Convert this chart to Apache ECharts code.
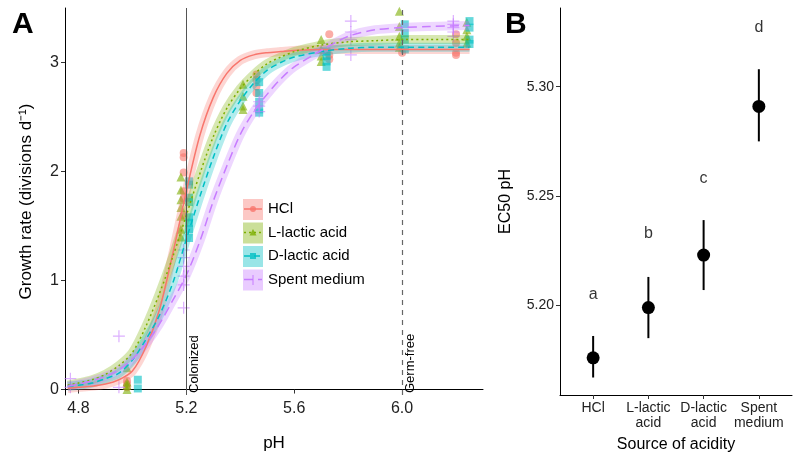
<!DOCTYPE html>
<html>
<head>
<meta charset="utf-8">
<script src="https://cdn.jsdelivr.net/npm/echarts@6/dist/echarts.min.js"></script>
<style>
  html, body { margin: 0; padding: 0; background: #fff; }
  #chart { width: 800px; height: 465px; }
</style>
</head>
<body>
<div id="chart"></div>
<script>
// 数据
const groups = ['HCl', 'L-lactic acid', 'D-lactic acid', 'Spent medium'];
const colors = ['#F8766D', '#7CAE00', '#00BFC4', '#C77CFF'];

// 拟合曲线：pH 网格与各组生长速率
const phGrid = [4.76, 4.80, 4.85, 4.90, 4.95, 5.00, 5.05, 5.10, 5.15, 5.20, 5.25, 5.30, 5.35, 5.40, 5.45, 5.50, 5.55, 5.60, 5.70, 5.80, 5.90, 6.00, 6.10, 6.25];
const hclFit   = [0.01, 0.02, 0.03, 0.05, 0.09, 0.17, 0.39, 0.73, 1.25, 1.82, 2.33, 2.68, 2.90, 3.02, 3.07, 3.09, 3.10, 3.11, 3.12, 3.12, 3.12, 3.12, 3.12, 3.12];
const lacLFit  = [0.04, 0.06, 0.09, 0.14, 0.22, 0.34, 0.58, 0.88, 1.22, 1.60, 1.98, 2.32, 2.58, 2.76, 2.89, 2.99, 3.05, 3.10, 3.16, 3.19, 3.20, 3.21, 3.21, 3.21];
const lacDFit  = [0.03, 0.04, 0.06, 0.10, 0.15, 0.27, 0.46, 0.68, 0.98, 1.38, 1.77, 2.13, 2.44, 2.65, 2.81, 2.93, 3.00, 3.05, 3.10, 3.13, 3.14, 3.14, 3.14, 3.14];
const spentFit = [0.03, 0.05, 0.08, 0.12, 0.18, 0.28, 0.42, 0.60, 0.82, 1.05, 1.36, 1.73, 2.05, 2.34, 2.55, 2.71, 2.85, 2.96, 3.11, 3.24, 3.30, 3.32, 3.33, 3.34];

// 观测点 [pH, 生长速率]
const hclPts = [[4.98,0.02],[4.98,0.05],[4.98,0.08],[5.19,2.17],[5.19,2.13],[5.19,1.99],[5.19,1.82],[5.19,1.75],[5.19,1.6],
  [5.46,2.89],[5.46,2.84],[5.46,2.78],[5.46,2.72],[5.73,3.26],[5.73,3.07],[5.73,3.03],[6.0,3.09],[6.2,3.26],[6.2,3.18],[6.2,3.09],[6.2,3.07]];
const lacLPts = [[4.98,0.0],[4.98,0.04],[4.98,0.07],[4.98,0.2],[5.18,1.95],[5.18,1.83],[5.18,1.74],[5.18,1.67],[5.18,1.59],[5.18,1.47],[5.18,1.4],
  [5.41,2.8],[5.41,2.69],[5.41,2.6],[5.41,2.57],[5.7,3.21],[5.7,3.12],[5.7,3.06],[5.7,3.01],
  [5.99,3.47],[5.99,3.33],[5.99,3.24],[5.99,3.18],[5.99,3.14],[6.24,3.37],[6.24,3.3],[6.24,3.24],[6.24,3.18]];
const lacDPts = [[5.02,0.09],[5.02,0.01],[5.21,1.91],[5.21,1.88],[5.21,1.76],[5.21,1.72],[5.21,1.58],[5.21,1.53],[5.21,1.47],[5.21,1.39],
  [5.47,2.82],[5.47,2.72],[5.47,2.64],[5.47,2.57],[5.47,2.54],[5.72,3.1],[5.72,3.06],[5.72,3.01],[5.72,2.96],
  [6.01,3.35],[6.01,3.27],[6.01,3.21],[6.01,3.12],[6.25,3.38],[6.25,3.32],[6.25,3.21],[6.25,3.17]];
const spentPts = [[4.77,0.1],[4.77,0.02],[4.95,0.49],[4.95,0.02],[5.19,1.28],[5.19,1.21],[5.19,1.13],[5.19,1.04],[5.19,0.96],[5.19,0.75],
  [5.47,2.64],[5.47,2.6],[5.47,2.55],[5.81,3.38],[5.81,3.28],[5.81,3.21],[5.81,3.07],
  [6.19,3.38],[6.19,3.35],[6.19,3.32],[6.19,3.28],[6.19,3.24]];

const phTicks = [4.8, 5.2, 5.6, 6.0];
const rateTicks = [0, 1, 2, 3];

// B 图：EC50
const sources = ['HCl', 'L-lactic\nacid', 'D-lactic\nacid', 'Spent\nmedium'];
const ec50 = [5.176, 5.199, 5.223, 5.291];
const ec50Lo = [5.167, 5.185, 5.207, 5.275];
const ec50Hi = [5.186, 5.213, 5.239, 5.308];
const letters = ['a', 'b', 'c', 'd'];
const letterY = [5.205, 5.233, 5.258, 5.327];
const ecTicks = [5.20, 5.25, 5.30];

const fits = [hclFit, lacLFit, lacDFit, spentFit].map(v => phGrid.map((x, j) => [x, v[j]]));
const pts = [hclPts, lacLPts, lacDPts, spentPts];
const dashes = ['solid', [2, 3], [6, 4], [9, 5]];
const plusPath = 'path://M4.5,0H5.5V10H4.5Z M0,4.5H10V5.5H0Z';
const symbols = ['circle', 'triangle', 'rect', plusPath];
const symSizes = [8, 9, 8, 12];

const font = 'Liberation Sans, Arial, sans-serif';

const chart = echarts.init(document.getElementById('chart'));

const series = [];
// 观测点
pts.forEach((d, i) => {
    series.push({
        type: 'scatter', xAxisIndex: 0, yAxisIndex: 0, data: d,
        symbol: symbols[i], symbolSize: symSizes[i],
        itemStyle: { color: colors[i], opacity: 0.6 }, z: 2, silent: true
    });
});
// 置信带
fits.forEach((d, i) => {
    series.push({
        type: 'line', xAxisIndex: 0, yAxisIndex: 0, data: d, smooth: 0.3,
        showSymbol: false, lineStyle: { color: colors[i], width: 9, opacity: 0.3 }, z: 3, silent: true
    });
});
// 拟合线
fits.forEach((d, i) => {
    series.push({
        type: 'line', xAxisIndex: 0, yAxisIndex: 0, data: d, smooth: 0.3,
        showSymbol: false, lineStyle: { color: colors[i], width: 1.5, type: dashes[i] }, z: 4, silent: true
    });
});
// 参考线
series.push({
    type: 'line', xAxisIndex: 0, yAxisIndex: 0, data: [], silent: true,
    markLine: {
        symbol: 'none', silent: true,
        data: [
            { xAxis: 5.2, lineStyle: { color: '#555', width: 1, type: 'solid' },
              label: { formatter: 'Colonized' } },
            { xAxis: 6.0, lineStyle: { color: '#666', width: 1.2, type: [5, 5] },
              label: { formatter: 'Germ-free' } }
        ],
        label: { show: true, position: 'insideStartBottom', color: '#000', fontSize: 13, fontFamily: font, distance: 2 }
    }
});

// B 图误差线
series.push({
    type: 'custom', xAxisIndex: 1, yAxisIndex: 1,
    data: ec50.map((v, i) => [i + 1, ec50Lo[i], ec50Hi[i]]),
    renderItem: (params, api) => {
        const p1 = api.coord([api.value(0), api.value(1)]);
        const p2 = api.coord([api.value(0), api.value(2)]);
        return { type: 'line', shape: { x1: p1[0], y1: p1[1], x2: p2[0], y2: p2[1] }, style: { stroke: '#000', lineWidth: 2 } };
    },
    z: 2
});
series.push({
    type: 'scatter', xAxisIndex: 1, yAxisIndex: 1,
    data: ec50.map((v, i) => [i + 1, v]),
    symbolSize: 13, itemStyle: { color: '#000', opacity: 1 }, z: 3
});
series.push({
    type: 'scatter', xAxisIndex: 1, yAxisIndex: 1,
    data: letterY.map((v, i) => [i + 1, v]),
    symbolSize: 0,
    label: { show: true, position: 'inside', formatter: p => letters[p.dataIndex], color: '#000', fontSize: 16, fontFamily: font }
});

// A 图图例
const legendGraphics = [];
groups.forEach((g, i) => {
    const cy = 209 + i * 23.5;
    legendGraphics.push({ type: 'rect', shape: { x: 243, y: cy - 10, width: 20, height: 21 }, style: { fill: colors[i], opacity: 0.4 } });
    legendGraphics.push({ type: 'line', shape: { x1: 244, y1: cy, x2: 262, y2: cy }, style: { stroke: colors[i], lineWidth: 1.5, lineDash: dashes[i] === 'solid' ? null : dashes[i] } });
    legendGraphics.push({ type: 'text', x: 268, y: cy, style: { text: g, fontSize: 15, fontFamily: font, fill: '#000', verticalAlign: 'middle' } });
});
legendGraphics.push({ type: 'circle', shape: { cx: 253, cy: 209, r: 3 }, style: { fill: colors[0], opacity: 0.8 } });
legendGraphics.push({ type: 'polygon', shape: { points: [[253, 229], [249.5, 235.5], [256.5, 235.5]] }, style: { fill: colors[1], opacity: 0.8 } });
legendGraphics.push({ type: 'rect', shape: { x: 250, y: 253, width: 6, height: 6 }, style: { fill: colors[2], opacity: 0.8 } });
legendGraphics.push({ type: 'line', shape: { x1: 253, y1: 275, x2: 253, y2: 285 }, style: { stroke: colors[3], lineWidth: 1 } });

const option = {
    animation: false,
    backgroundColor: '#fff',
    grid: [
        { left: 65, right: 317, top: 8, bottom: 70 },
        { left: 560, right: 8, top: 8, bottom: 70 }
    ],
    xAxis: [
        {
            type: 'value', gridIndex: 0, min: 4.75, max: 6.3,
            name: 'pH', nameLocation: 'middle', nameGap: 40,
            nameTextStyle: { fontSize: 17, color: '#000', fontFamily: font },
            axisLine: { lineStyle: { color: '#000', width: 1 } },
            axisTick: { show: true, length: 4, customValues: phTicks, lineStyle: { color: '#333' } },
            axisLabel: { customValues: phTicks, formatter: v => v.toFixed(1), fontSize: 16, color: '#222', fontFamily: font, margin: 6 },
            splitLine: { show: false }
        },
        {
            type: 'value', gridIndex: 1, min: 0.4, max: 4.6,
            name: 'Source of acidity', nameLocation: 'middle', nameGap: 42,
            nameTextStyle: { fontSize: 16, color: '#000', fontFamily: font },
            axisLine: { lineStyle: { color: '#000', width: 1 } },
            axisTick: { show: true, length: 4, customValues: [1, 2, 3, 4], lineStyle: { color: '#333' } },
            axisLabel: { customValues: [1, 2, 3, 4], formatter: v => sources[Math.round(v) - 1], fontSize: 14, lineHeight: 15, color: '#222', fontFamily: font, margin: 6 },
            splitLine: { show: false }
        }
    ],
    yAxis: [
        {
            type: 'value', gridIndex: 0, min: -0.05, max: 3.5,
            name: 'Growth rate (divisions d⁻¹)', nameLocation: 'middle', nameGap: 30,
            nameTextStyle: { fontSize: 17, color: '#000', fontFamily: font },
            axisLine: { show: true, lineStyle: { color: '#000', width: 1 } },
            axisTick: { show: true, length: 4, customValues: rateTicks, lineStyle: { color: '#333' } },
            axisLabel: { customValues: rateTicks, fontSize: 16, color: '#222', fontFamily: font, margin: 6 },
            splitLine: { show: false }
        },
        {
            type: 'value', gridIndex: 1, min: 5.159, max: 5.336,
            name: 'EC50 pH', nameLocation: 'middle', nameGap: 46,
            nameTextStyle: { fontSize: 16, color: '#000', fontFamily: font },
            axisLine: { show: true, lineStyle: { color: '#000', width: 1 } },
            axisTick: { show: true, length: 4, customValues: ecTicks, lineStyle: { color: '#333' } },
            axisLabel: { customValues: ecTicks, formatter: v => v.toFixed(2), fontSize: 14, color: '#222', fontFamily: font, margin: 6 },
            splitLine: { show: false }
        }
    ],
    graphic: [
        { type: 'text', left: 12, top: 10, style: { text: 'A', fontSize: 30, fontWeight: 'bold', fontFamily: font, fill: '#000' } },
        { type: 'text', left: 505, top: 10, style: { text: 'B', fontSize: 30, fontWeight: 'bold', fontFamily: font, fill: '#000' } },
        ...legendGraphics
    ],
    series: series
};

chart.setOption(option);
</script>
</body>
</html>
